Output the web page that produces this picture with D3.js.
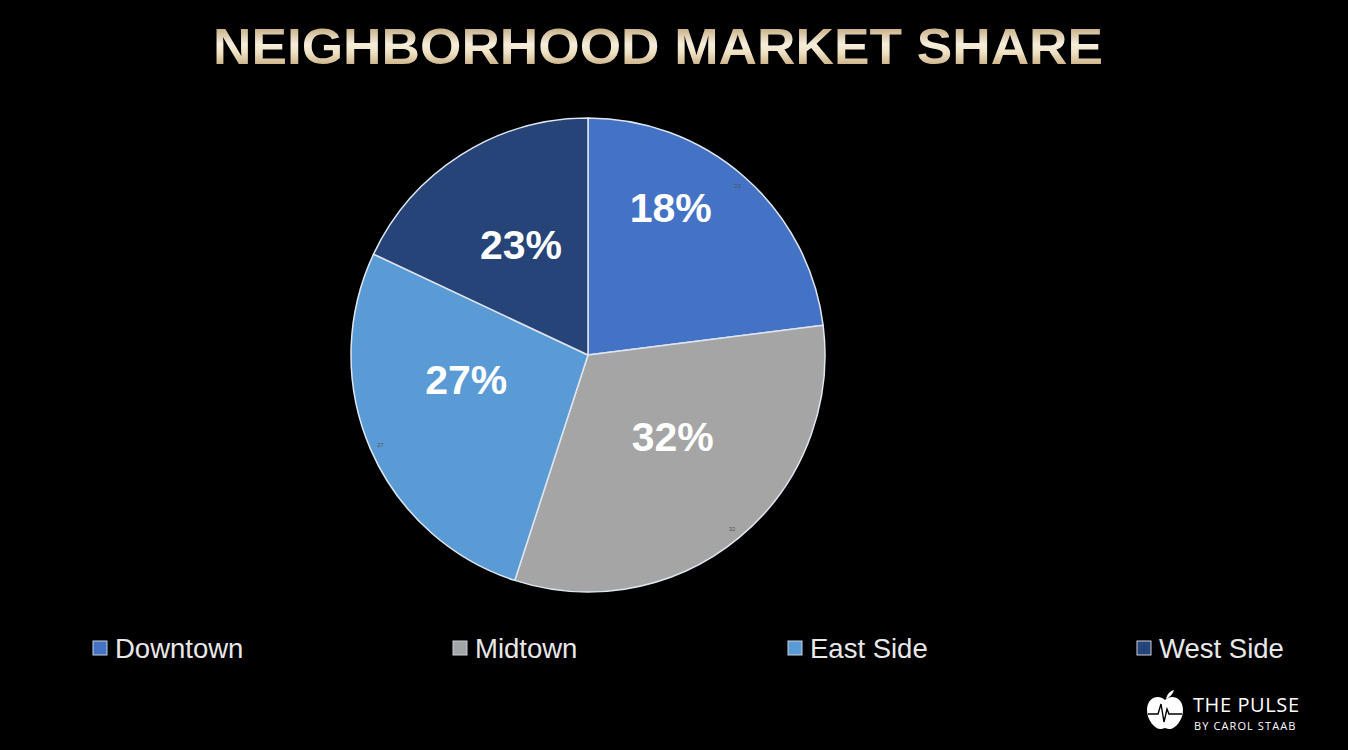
<!DOCTYPE html>
<html>
<head>
<meta charset="utf-8">
<script src="https://cdn.jsdelivr.net/npm/d3@7"></script>
<style>
  body { margin: 0; background: #000; }
  svg { display: block; }
</style>
</head>
<body>
<div id="chart"></div>
<script>
// chart data
const neighborhoods = ["Downtown", "Midtown", "East Side", "West Side"];
const shares = [23, 32, 27, 18];
// labels as printed on the slices
const sliceLabels = ["18%", "32%", "27%", "23%"];
const sliceColors = ["#4472c4", "#a5a5a5", "#5b9bd5", "#264478"];

const width = 1348;
const height = 750;

const svg = d3.select("#chart")
  .append("svg")
  .attr("width", width)
  .attr("height", height)
  .style("background", "#000");

// gold gradient for the title
const defs = svg.append("defs");
const grad = defs.append("linearGradient")
  .attr("id", "gold")
  .attr("x1", 0).attr("y1", 0).attr("x2", 0).attr("y2", 1);
grad.append("stop").attr("offset", "0%").attr("stop-color", "#ad8b55");
grad.append("stop").attr("offset", "45%").attr("stop-color", "#f6eedc");
grad.append("stop").attr("offset", "60%").attr("stop-color", "#efe2c4");
grad.append("stop").attr("offset", "100%").attr("stop-color", "#ae8c58");

svg.append("text")
  .attr("x", 658)
  .attr("y", 64)
  .attr("text-anchor", "middle")
  .attr("textLength", 890)
  .attr("lengthAdjust", "spacingAndGlyphs")
  .style("font-family", "'Liberation Sans', Arial, sans-serif")
  .style("font-weight", "bold")
  .style("font-size", "50px")
  .style("fill", "url(#gold)")
  .text("NEIGHBORHOOD MARKET SHARE");

// pie
const cx = 588, cy = 355, radius = 237;
const pieData = d3.pie().sort(null).value(d => d)(shares);

const arc = d3.arc().innerRadius(0).outerRadius(radius);
const pieG = svg.append("g").attr("transform", `translate(${cx}, ${cy})`);

pieG.selectAll("path")
  .data(pieData)
  .join("path")
  .attr("d", arc)
  .attr("fill", (d, i) => sliceColors[i])
  .attr("stroke", "#dfe6f0")
  .attr("stroke-width", 1.5);

// big percentage labels
const labelArc = d3.arc().innerRadius(125).outerRadius(125);
// the original labels are shifted from the slice centroids
const labelNudge = [[0, -54], [5, -15], [-7, -25], [0, -5]];
pieG.selectAll(".big-label")
  .data(pieData)
  .join("text")
  .attr("class", "big-label")
  .attr("transform", (d, i) => {
    const c = labelArc.centroid(d);
    const n = labelNudge[i];
    return `translate(${c[0] + n[0]}, ${c[1] + n[1]})`;
  })
  .attr("text-anchor", "middle")
  .attr("dy", "0.36em")
  .style("font-family", "'Liberation Sans', Arial, sans-serif")
  .style("font-weight", "bold")
  .style("font-size", "41px")
  .style("fill", "#fff")
  .text((d, i) => sliceLabels[i]);

// faint tiny value labels near the rim
const tinyArc = d3.arc().innerRadius(226).outerRadius(226);
pieG.selectAll(".tiny-label")
  .data(pieData.slice(0, 3))
  .join("text")
  .attr("class", "tiny-label")
  .attr("transform", d => `translate(${tinyArc.centroid(d)})`)
  .attr("text-anchor", "middle")
  .attr("dy", "0.35em")
  .style("font-family", "'Liberation Sans', Arial, sans-serif")
  .style("font-size", "6px")
  .style("fill", "#555")
  .text(d => d.value);

// legend
const legendXs = { "Downtown": 93, "Midtown": 453, "East Side": 788, "West Side": 1137 };

const legend = svg.append("g")
  .selectAll("g")
  .data(neighborhoods)
  .join("g")
  .attr("transform", d => `translate(${legendXs[d]}, 648)`);

legend.append("rect")
  .attr("x", 0)
  .attr("y", -7)
  .attr("width", 14)
  .attr("height", 14)
  .attr("fill", (d, i) => sliceColors[i])
  .attr("stroke", "#c8d2e0")
  .attr("stroke-width", 1);

legend.append("text")
  .attr("x", 22)
  .attr("dy", "0.36em")
  .style("font-family", "'Liberation Sans', Arial, sans-serif")
  .style("font-size", "27.5px")
  .style("fill", "#e8e8e8")
  .text(d => d);

// logo
const logo = svg.append("g").attr("transform", "translate(1165, 711)");
logo.append("path")
  .attr("d", "M0,-11 C-6,-17 -18,-14 -18,-1 C-18,10 -9,19 -4,18 C-2,18 -1,17 0,17 C1,17 2,18 4,18 C9,19 18,10 18,-1 C18,-14 6,-17 0,-11 Z")
  .attr("fill", "#fff");
logo.append("path")
  .attr("d", "M1,-12 C2,-17 5,-20 9,-21 C8,-17 5,-14 1,-12 Z")
  .attr("fill", "#fff");
logo.append("path")
  .attr("d", "M-17,3 L-7,3 L-4,-7 L-1,11 L2,-2 L4,3 L17,3")
  .attr("fill", "none")
  .attr("stroke", "#000")
  .attr("stroke-width", 1.4);

svg.append("text")
  .attr("x", 1193)
  .attr("y", 712)
  .style("font-family", "'Open Sans', sans-serif")
  .style("font-size", "20px")
  .style("letter-spacing", "0.6px")
  .style("fill", "#fff")
  .text("THE PULSE");

svg.append("text")
  .attr("x", 1194)
  .attr("y", 730)
  .style("font-family", "'Open Sans', sans-serif")
  .style("font-size", "11px")
  .style("letter-spacing", "1.1px")
  .style("fill", "#fff")
  .text("BY CAROL STAAB");
</script>
</body>
</html>
